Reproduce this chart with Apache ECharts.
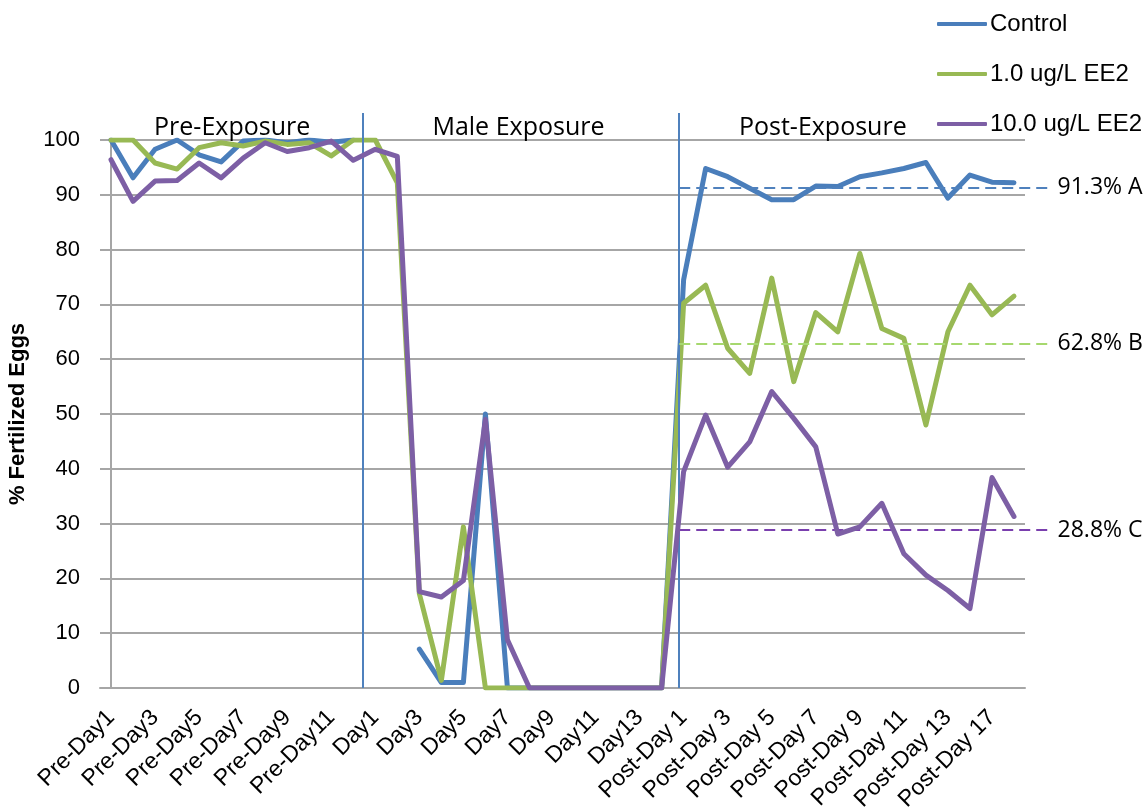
<!DOCTYPE html>
<html>
<head>
<meta charset="utf-8">
<title>% Fertilized Eggs</title>
<script src="https://cdn.jsdelivr.net/npm/echarts@6/dist/echarts.min.js"></script>
<style>
  html, body { margin: 0; padding: 0; background: #ffffff; }
  #chart { width: 1148px; height: 810px; }
</style>
</head>
<body>
<div id="chart"></div>
<script>
// Sampling days, grouped by phase
const preDays = ['Pre-Day1', 'Pre-Day2', 'Pre-Day3', 'Pre-Day4', 'Pre-Day5', 'Pre-Day6',
  'Pre-Day7', 'Pre-Day8', 'Pre-Day9', 'Pre-Day10', 'Pre-Day11', 'Pre-Day12'];
const maleDays = ['Day1', 'Day2', 'Day3', 'Day4', 'Day5', 'Day6', 'Day7',
  'Day8', 'Day9', 'Day10', 'Day11', 'Day12', 'Day13', 'Day14'];
const postDays = ['Post-Day 1', 'Post-Day 2', 'Post-Day 3', 'Post-Day 4', 'Post-Day 5',
  'Post-Day 6', 'Post-Day 7', 'Post-Day 8', 'Post-Day 9', 'Post-Day 10', 'Post-Day 11',
  'Post-Day 12', 'Post-Day 13', 'Post-Day 15', 'Post-Day 17', 'Post-Day 19'];
const categories = preDays.concat(maleDays, postDays);

// % fertilized eggs per treatment (null = no spawn recorded)
const control = [
  100, 93.1, 98.3, 100, 97.3, 96.0, 99.8, 100, 99.5, 100, 99.6, 100,
  null, null, 7.1, 1.0, 1.0, 50.0, 0, 0, 0, 0, 0, 0, 0, 0,
  74.5, 94.8, 93.3, 91.2, 89.1, 89.1, 91.6, 91.5, 93.3, 94.0, 94.8, 95.9, 89.4, 93.6, 92.3, 92.2
];
const ee2Low = [
  100, 100, 95.8, 94.7, 98.6, 99.5, 98.9, 99.8, 99.2, 99.5, 97.1, 100,
  100, 92.2, 17.2, 1.4, 29.4, 0, 0, 0, 0, 0, 0, 0, 0, 0,
  70.2, 73.5, 62.0, 57.4, 74.8, 55.9, 68.5, 65.0, 79.3, 65.6, 63.8, 48.0, 65.0, 73.5, 68.1, 71.5
];
const ee2High = [
  96.4, 88.8, 92.5, 92.6, 95.8, 93.1, 96.7, 99.5, 97.9, 98.6, 99.8, 96.3,
  98.3, 97.0, 17.6, 16.6, 19.6, 49.0, 8.8, 0, 0, 0, 0, 0, 0, 0,
  39.5, 49.8, 40.3, 44.9, 54.1, 49.2, 44.0, 28.1, 29.4, 33.7, 24.5, 20.6, 17.8, 14.5, 38.4, 31.3
];

const seriesNames = ['Control', '1.0 ug/L EE2', '10.0 ug/L EE2'];
// Post-exposure means and significance groups
const postMeans = [91.3, 62.8, 28.8];
const postGroups = ['A', 'B', 'C'];
const phaseNames = ['Pre-Exposure', 'Male Exposure', 'Post-Exposure'];
const yTicks = [0, 10, 20, 30, 40, 50, 60, 70, 80, 90, 100];

const lineColors = ['#4a7ebb', '#98b954', '#7d5fa5'];
const meanColors = ['#4f81bd', '#a6d86e', '#7a3fae'];

const N = categories.length;
const DAY1_IDX = preDays.length;
const POST1_IDX = preDays.length + maleDays.length;
const ARIAL = '"Liberation Sans", Arial, sans-serif';
const SOFT = '"Open Sans", sans-serif';

const chart = echarts.init(document.getElementById('chart'), null, { renderer: 'canvas' });

const dataSeries = [control, ee2Low, ee2High].map((vals, i) => ({
  name: seriesNames[i],
  type: 'line',
  data: vals,
  xAxisIndex: 0,
  yAxisIndex: 0,
  symbol: 'none',
  connectNulls: false,
  lineStyle: { color: lineColors[i], width: 5, cap: 'round', join: 'round' },
  itemStyle: { color: lineColors[i] },
  z: 3 + i
}));

// Phase separators, phase titles and post-exposure mean lines
const annotations = {
  name: 'phases',
  type: 'line',
  data: [],
  xAxisIndex: 1,
  yAxisIndex: 0,
  silent: true,
  clip: false,
  z: 2,
  markArea: {
    silent: true,
    itemStyle: { color: 'rgba(0,0,0,0)' },
    label: {
      show: true, position: 'top', distance: 0,
      color: '#000', fontFamily: SOFT, fontSize: 25
    },
    data: [
      [{ name: phaseNames[0], xAxis: -0.5 }, { xAxis: DAY1_IDX - 0.5 }],
      [{ name: phaseNames[1], xAxis: DAY1_IDX - 0.5 }, { xAxis: POST1_IDX - 0.5 }],
      [{ name: phaseNames[2], xAxis: POST1_IDX - 0.5, label: { offset: [-26, 0] } }, { xAxis: N - 0.5 }]
    ]
  },
  markLine: {
    silent: true,
    symbol: ['none', 'none'],
    animation: false,
    data: [
      [{ xAxis: DAY1_IDX - 0.57, y: 113 }, { xAxis: DAY1_IDX - 0.57, yAxis: 0 }],
      [{ xAxis: POST1_IDX - 0.21, y: 113 }, { xAxis: POST1_IDX - 0.21, yAxis: 0 }]
    ].map(pair => pair.map(p => Object.assign(p, {
      lineStyle: { color: '#4f81bd', width: 2, type: 'solid' },
      label: { show: false }
    }))).concat(postMeans.map((m, i) => [
      {
        xAxis: POST1_IDX - 0.2, yAxis: m,
        lineStyle: { color: meanColors[i], width: 1.8, type: [11, 6] },
        label: {
          show: true, position: 'end', distance: 6,
          formatter: m.toFixed(1) + '% ' + postGroups[i],
          color: '#000', fontFamily: SOFT, fontSize: 23
        }
      },
      { x: '91.6%', yAxis: m }
    ]))
  }
};

chart.setOption({
  animation: false,
  backgroundColor: '#ffffff',
  grid: {
    left: 100, right: 123, top: 140, bottom: 122,
    containLabel: false,
    outerBoundsMode: 'none'
  },
  legend: {
    data: seriesNames,
    orient: 'vertical',
    left: 932,
    top: 7,
    itemWidth: 50,
    itemHeight: 4,
    itemGap: 26,
    icon: 'roundRect',
    textStyle: { color: '#000', fontFamily: ARIAL, fontSize: 24, padding: [0, 0, 0, -2] }
  },
  xAxis: [
    {
      type: 'category',
      data: categories,
      boundaryGap: true,
      axisLine: { show: true, lineStyle: { color: '#a6a6a6', width: 2 } },
      axisTick: { show: false },
      splitLine: { show: false },
      axisLabel: {
        interval: 1, rotate: 45, margin: 26,
        color: '#000', fontFamily: ARIAL, fontSize: 23
      }
    },
    {
      type: 'value',
      min: -0.5,
      max: N - 0.5,
      show: false
    }
  ],
  yAxis: {
    type: 'value',
    min: yTicks[0],
    max: yTicks[yTicks.length - 1],
    interval: yTicks[1] - yTicks[0],
    name: '% Fertilized Eggs',
    nameLocation: 'middle',
    nameRotate: 90,
    nameGap: 71,
    nameTextStyle: { color: '#000', fontFamily: ARIAL, fontSize: 22, fontWeight: 'bold' },
    axisLine: { show: true, lineStyle: { color: '#a6a6a6', width: 2 } },
    axisTick: { show: false },
    splitLine: { show: true, lineStyle: { color: '#a6a6a6', width: 2 } },
    axisLabel: { margin: 20, color: '#000', fontFamily: ARIAL, fontSize: 22 }
  },
  series: dataSeries.concat([annotations])
});
</script>
</body>
</html>
